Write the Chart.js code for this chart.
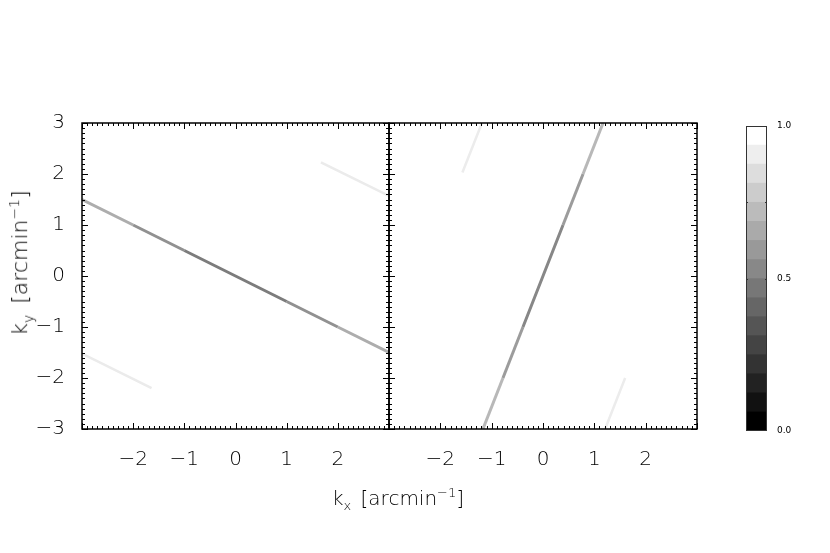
<!DOCTYPE html>
<html>
<head>
<meta charset="utf-8">
<script src="https://cdn.jsdelivr.net/npm/chart.js@4/dist/chart.umd.min.js"></script>
<style>
  body { margin: 0; background: #fff; }
  #wrap { position: relative; width: 830px; height: 553px; overflow: hidden; }
  #wrap canvas { position: absolute; left: 0; top: 0; }
  .title { position: absolute; font-family: "DejaVu Sans", sans-serif; color: #000; white-space: nowrap; font-weight: 300; }
  #ytitle { font-size: 22px; left: 21px; top: 263px; transform: translate(-50%, -50%) rotate(-90deg); word-spacing: 4px; }
  #ytitle sub, #ytitle sup { font-size: 14px; }
  #xtitle { font-size: 20px; left: 398px; top: 499px; transform: translate(-50%, -50%); word-spacing: 3px; }
  #xtitle sub, #xtitle sup { font-size: 13px; }
</style>
</head>
<body>
<div id="wrap">
  <canvas id="left" width="830" height="553"></canvas>
  <canvas id="right" width="830" height="553"></canvas>
  <canvas id="cbar" width="830" height="553"></canvas>
  <div class="title" id="ytitle">k<sub>y</sub> [arcmin<sup>&minus;1</sup>]</div>
  <div class="title" id="xtitle">k<sub>x</sub> [arcmin<sup>&minus;1</sup>]</div>
</div>
<script>
// axis range of both panels
const kMin = -3;
const kMax = 3;

// left panel: main stripe and its two wrapped copies (shade 0 = black, 1 = white)
const leftMainX = [-3, -2, -1, 0, 1, 2, 3];
const leftMainY = [1.5, 1.0, 0.5, 0, -0.5, -1.0, -1.5];
const leftMainShade = [0.74, 0.62, 0.52, 0.45, 0.52, 0.62, 0.74];
const leftGhostAX = [1.67, 3];
const leftGhostAY = [2.23, 1.57];
const leftGhostAShade = [0.95, 0.89];
const leftGhostBX = [-3, -1.64];
const leftGhostBY = [-1.52, -2.2];
const leftGhostBShade = [0.89, 0.95];

// right panel
const rightMainX = [-1.17, -0.78, -0.39, 0, 0.39, 0.78, 1.17];
const rightMainY = [-3, -2, -1, 0, 1, 2, 3];
const rightMainShade = [0.78, 0.66, 0.56, 0.5, 0.56, 0.66, 0.78];
const rightGhostAX = [-1.57, -1.19];
const rightGhostAY = [2.03, 3];
const rightGhostAShade = [0.95, 0.9];
const rightGhostBX = [1.21, 1.6];
const rightGhostBY = [-3, -2.0];
const rightGhostBShade = [0.9, 0.95];

// colour bar: 16 grey levels between 0 and 1
const cbarLevels = [0, 0.0625, 0.125, 0.1875, 0.25, 0.3125, 0.375, 0.4375,
                    0.5, 0.5625, 0.625, 0.6875, 0.75, 0.8125, 0.875, 0.9375];
const cbarStep = 0.0625;

const tickFont = { family: "DejaVu Sans", size: 20, weight: 300 };

function grey(s) {
    const v = Math.round(255 * Math.max(0, Math.min(1, s)));
    return `rgb(${v},${v},${v})`;
}

function stripe(xs, ys, shade, width) {
    return {
        data: xs.map((x, i) => ({ x: x, y: ys[i] })),
        borderWidth: width,
        borderColor: grey(shade[0]),
        pointRadius: 0,
        borderCapStyle: 'butt',
        segment: {
            borderColor: ctx => grey((shade[ctx.p0DataIndex] + shade[ctx.p1DataIndex]) / 2)
        }
    };
}

// frame with inward ticks on all four sides
const framePlugin = {
    id: 'frame',
    afterDraw(chart) {
        const { ctx, chartArea: a, scales } = chart;
        ctx.save();
        ctx.strokeStyle = '#000';
        ctx.lineWidth = 1;
        ctx.beginPath();
        for (let i = -30; i <= 30; i++) {
            const v = i / 10;
            const len = i % 10 === 0 ? 6 : 3;
            const px = Math.round(scales.x.getPixelForValue(v)) + 0.5;
            const py = Math.round(scales.y.getPixelForValue(v)) + 0.5;
            ctx.moveTo(px, a.bottom); ctx.lineTo(px, a.bottom - len);
            ctx.moveTo(px, a.top); ctx.lineTo(px, a.top + len);
            ctx.moveTo(a.left, py); ctx.lineTo(a.left + len, py);
            ctx.moveTo(a.right, py); ctx.lineTo(a.right - len, py);
        }
        ctx.stroke();
        ctx.lineWidth = 1.5;
        ctx.strokeRect(a.left, a.top, a.right - a.left, a.bottom - a.top);
        ctx.restore();
    }
};

function panelOptions(padding, showY) {
    return {
        responsive: false,
        animation: false,
        layout: { padding: padding },
        plugins: { legend: { display: false }, tooltip: { enabled: false } },
        scales: {
            x: {
                type: 'linear', min: kMin, max: kMax,
                grid: { display: false }, border: { display: false },
                ticks: {
                    stepSize: 1, color: '#000', font: tickFont, padding: 11,
                    callback: v => (v === kMin || v === kMax) ? null : (v < 0 ? '\u2212' + (-v) : String(v))
                },
                afterFit: s => { s.height = 124; }
            },
            y: {
                type: 'linear', min: kMin, max: kMax, display: showY,
                grid: { display: false }, border: { display: false },
                ticks: {
                    stepSize: 1, color: '#000', font: tickFont, padding: 9,
                    callback: v => v < 0 ? '\u2212' + (-v) : String(v)
                },
                afterFit: s => { s.width = showY ? 82 : 0; }
            }
        }
    };
}

new Chart(document.getElementById('left'), {
    type: 'line',
    data: {
        datasets: [
            stripe(leftGhostAX, leftGhostAY, leftGhostAShade, 2.5),
            stripe(leftGhostBX, leftGhostBY, leftGhostBShade, 2.5),
            stripe(leftMainX, leftMainY, leftMainShade, 3)
        ]
    },
    options: panelOptions({ left: 0, top: 123, right: 441, bottom: 0 }, true),
    plugins: [framePlugin]
});

new Chart(document.getElementById('right'), {
    type: 'line',
    data: {
        datasets: [
            stripe(rightGhostAX, rightGhostAY, rightGhostAShade, 2.5),
            stripe(rightGhostBX, rightGhostBY, rightGhostBShade, 2.5),
            stripe(rightMainX, rightMainY, rightMainShade, 3)
        ]
    },
    options: panelOptions({ left: 389, top: 123, right: 133, bottom: 0 }, false),
    plugins: [framePlugin]
});

const cbarPlugin = {
    id: 'cbarFrame',
    afterDraw(chart) {
        const { ctx, chartArea: a, scales } = chart;
        ctx.save();
        ctx.strokeStyle = '#333';
        ctx.lineWidth = 1;
        ctx.strokeRect(a.left + 0.5, a.top + 0.5, a.right - a.left - 1, a.bottom - a.top - 1);
        ctx.beginPath();
        [0.25, 0.5, 0.75].forEach(v => {
            const py = Math.round(scales.y.getPixelForValue(v)) + 0.5;
            ctx.moveTo(a.left, py); ctx.lineTo(a.left + 2, py);
            ctx.moveTo(a.right, py); ctx.lineTo(a.right - 2, py);
        });
        ctx.stroke();
        ctx.restore();
    }
};

new Chart(document.getElementById('cbar'), {
    type: 'bar',
    data: {
        labels: ['scale'],
        datasets: cbarLevels.map(lo => ({
            data: [[lo, lo + cbarStep]],
            backgroundColor: grey(lo / (1 - cbarStep)),
            borderWidth: 0,
            grouped: false,
            barPercentage: 1,
            categoryPercentage: 1
        }))
    },
    options: {
        responsive: false,
        animation: false,
        layout: { padding: { left: 746, top: 126, right: 33, bottom: 122 } },
        plugins: { legend: { display: false }, tooltip: { enabled: false } },
        scales: {
            x: { display: false },
            y: {
                position: 'right', min: 0, max: 1,
                grid: { display: false }, border: { display: false },
                ticks: {
                    stepSize: 0.5, color: '#000', padding: 2,
                    font: { family: "DejaVu Sans", size: 9 },
                    callback: v => v.toFixed(1)
                },
                afterFit: s => { s.width = 30; }
            }
        }
    },
    plugins: [cbarPlugin]
});
</script>
</body>
</html>
